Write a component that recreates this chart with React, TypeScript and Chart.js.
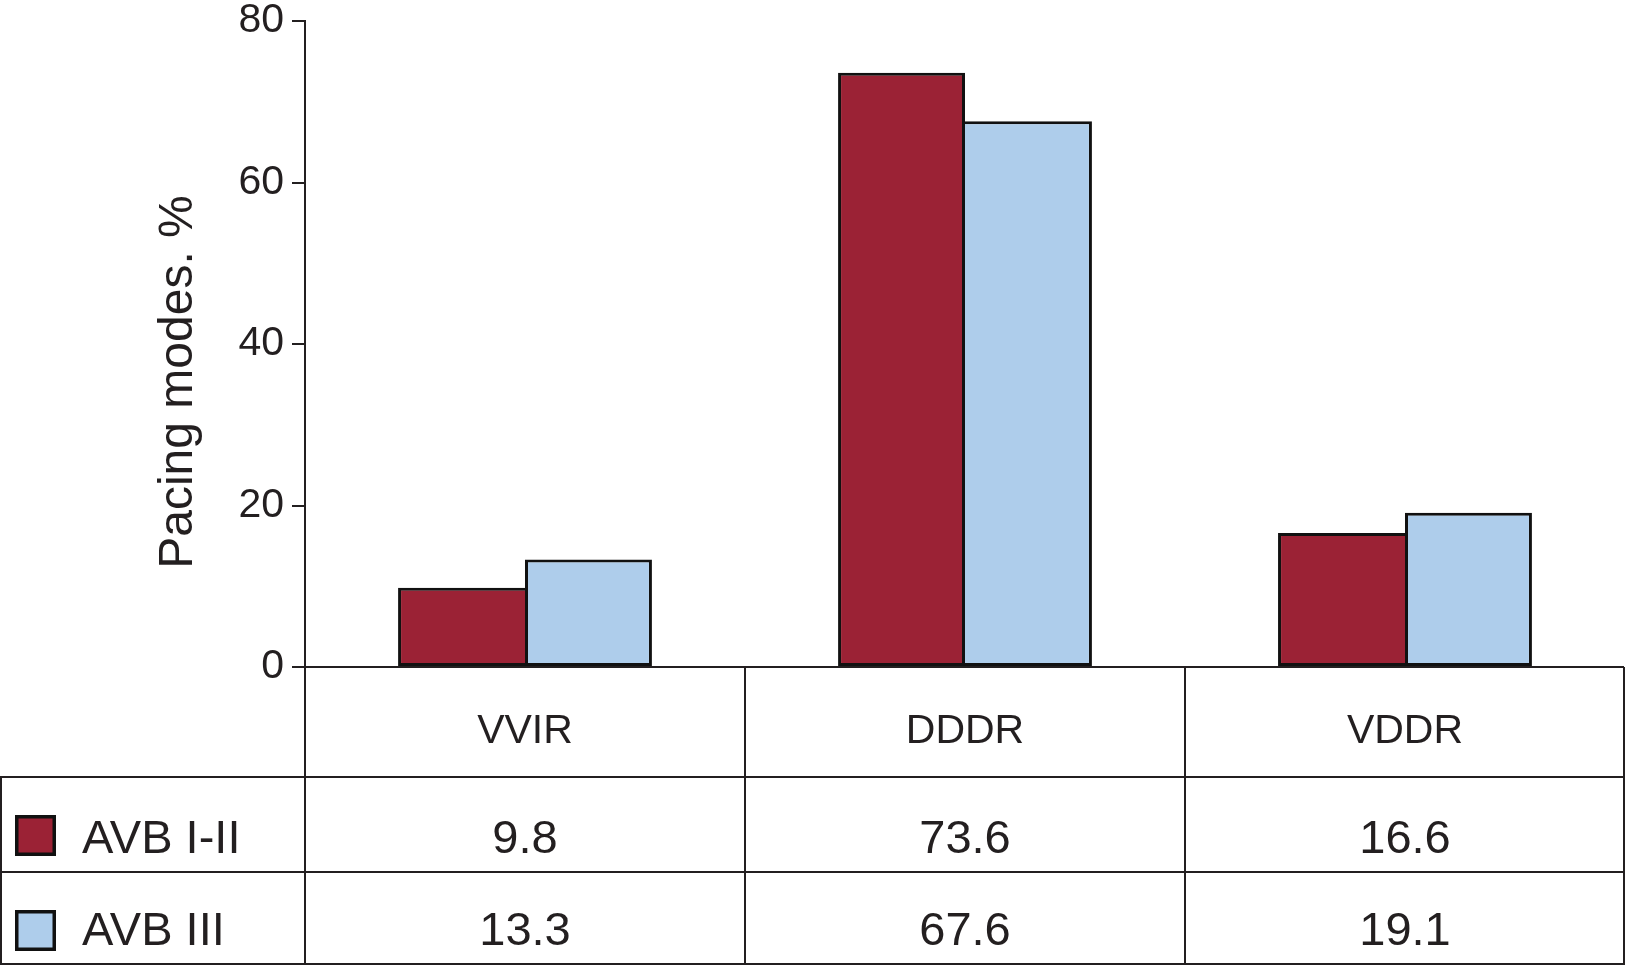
import React, { useEffect, useRef } from 'react';
import { Chart, registerables } from 'chart.js';

Chart.register(...registerables);

// ---- data ----
const categories = ['VVIR', 'DDDR', 'VDDR'];
const seriesNames = ['AVB I-II', 'AVB III'];
const avbI_II = [9.8, 73.6, 16.6];
const avbIII = [13.3, 67.6, 19.1];
const yTickValues = [0, 20, 40, 60, 80];
const yTitle = 'Pacing modes. %';

// ---- styles ----
const RED = '#9b2235';
const BLUE = '#aecdeb';
const INK = '#231f20';
const FONT = '"Liberation Sans", Arial, Helvetica, sans-serif';

const tablePlugin = {
  id: 'tablePlugin',
  afterDraw(chart: any) {
    const ctx = chart.ctx as CanvasRenderingContext2D;
    const xs = chart.scales.x;
    const area = chart.chartArea;
    const W = chart.width;
    const n = categories.length;
    const left = area.left;
    const right = area.right;
    const yBase = area.bottom;
    const row1Top = 777;
    const row2Top = 872;
    const tableBottom = 964;
    const outerLeft = 1;
    const outerRight = right - 1;

    const bounds: number[] = [left];
    for (let i = 0; i < n - 1; i++) {
      bounds.push((xs.getPixelForValue(i) + xs.getPixelForValue(i + 1)) / 2);
    }
    bounds.push(outerRight);

    ctx.save();
    ctx.strokeStyle = INK;
    ctx.lineWidth = 2;
    ctx.beginPath();
    // horizontal lines
    ctx.moveTo(left, yBase); ctx.lineTo(outerRight, yBase);
    ctx.moveTo(0, row1Top); ctx.lineTo(outerRight, row1Top);
    ctx.moveTo(0, row2Top); ctx.lineTo(outerRight, row2Top);
    ctx.moveTo(0, tableBottom); ctx.lineTo(outerRight + 1, tableBottom);
    // vertical lines
    bounds.forEach((b) => { ctx.moveTo(b, yBase); ctx.lineTo(b, tableBottom + 1); });
    ctx.moveTo(outerLeft, row1Top); ctx.lineTo(outerLeft, tableBottom + 1);
    ctx.stroke();

    ctx.fillStyle = INK;
    ctx.textAlign = 'center';
    ctx.textBaseline = 'alphabetic';
    // category labels
    ctx.font = `41px ${FONT}`;
    categories.forEach((c, i) => {
      ctx.fillText(c, xs.getPixelForValue(i), 743);
    });
    // values
    const rows = [
      { name: seriesNames[0], vals: avbI_II, color: RED, top: row1Top, base: 853 },
      { name: seriesNames[1], vals: avbIII, color: BLUE, top: row2Top, base: 945 },
    ];
    ctx.font = `47px ${FONT}`;
    rows.forEach((r) => {
      r.vals.forEach((v, i) => {
        ctx.fillText(v.toFixed(1), xs.getPixelForValue(i), r.base);
      });
    });
    // legend swatches + names
    rows.forEach((r) => {
      const sx = 15, sy = r.top + 38, s = 41, bw = 3.5;
      ctx.fillStyle = r.color;
      ctx.fillRect(sx, sy, s, s);
      ctx.lineWidth = bw;
      ctx.strokeStyle = '#111';
      ctx.strokeRect(sx + bw / 2, sy + bw / 2, s - bw, s - bw);
      ctx.fillStyle = INK;
      ctx.textAlign = 'left';
      ctx.font = `47px ${FONT}`;
      ctx.fillText(r.name, 82, r.base);
    });

    // y axis title
    ctx.save();
    ctx.translate(192, 382);
    ctx.rotate(-Math.PI / 2);
    ctx.textAlign = 'center';
    ctx.textBaseline = 'alphabetic';
    ctx.font = `48px ${FONT}`;
    ctx.fillStyle = INK;
    ctx.fillText(yTitle, 0, 0);
    ctx.restore();
    ctx.restore();
  },
};

function borderFor(own: number[], other: number[], side: 'left' | 'right') {
  return (c: any) => {
    const i = c.dataIndex;
    const w = 3;
    if (own[i] >= other[i]) return w;
    return side === 'right'
      ? { top: w, left: w, bottom: w, right: 0 }
      : { top: w, left: 0, bottom: w, right: w };
  };
}

export default function App() {
  const canvasRef = useRef<HTMLCanvasElement | null>(null);

  useEffect(() => {
    document.body.style.margin = '0';
    const canvas = canvasRef.current;
    if (!canvas) return;
    const chart = new Chart(canvas, {
      type: 'bar',
      data: {
        labels: categories,
        datasets: [
          {
            label: seriesNames[0],
            data: avbI_II,
            backgroundColor: RED,
            borderColor: '#111',
            borderWidth: borderFor(avbI_II, avbIII, 'right') as any,
            borderSkipped: false,
            categoryPercentage: 0.577,
            barPercentage: 1,
          },
          {
            label: seriesNames[1],
            data: avbIII,
            backgroundColor: BLUE,
            borderColor: '#111',
            borderWidth: borderFor(avbIII, avbI_II, 'left') as any,
            borderSkipped: false,
            categoryPercentage: 0.577,
            barPercentage: 1,
          },
        ],
      },
      options: {
        animation: false,
        responsive: true,
        maintainAspectRatio: false,
        devicePixelRatio: 1,
        layout: { padding: { top: 21, right: 3, bottom: 299, left: 0 } },
        plugins: {
          legend: { display: false },
          tooltip: { enabled: false },
          title: { display: false },
        },
        scales: {
          x: {
            type: 'category',
            display: false,
            offset: true,
          },
          y: {
            min: 0,
            max: 80,
            afterBuildTicks: (s: any) => {
              s.ticks = yTickValues.map((v) => ({ value: v }));
            },
            ticks: {
              font: { family: FONT, size: 41 },
              color: INK,
              padding: 8,
            },
            grid: {
              drawOnChartArea: false,
              drawTicks: true,
              tickLength: 13,
              color: INK,
              lineWidth: 2,
            },
            border: { display: true, color: INK, width: 2 },
            afterFit: (s: any) => {
              s.width = 305;
              s.paddingTop = 0;
              s.paddingBottom = 0;
            },
          },
        },
      },
      plugins: [tablePlugin],
    });
    return () => chart.destroy();
  }, []);

  return (
    <div style={{ position: 'fixed', left: 0, top: 0, width: 1628, height: 966, background: '#fff' }}>
      <canvas ref={canvasRef} />
    </div>
  );
}
